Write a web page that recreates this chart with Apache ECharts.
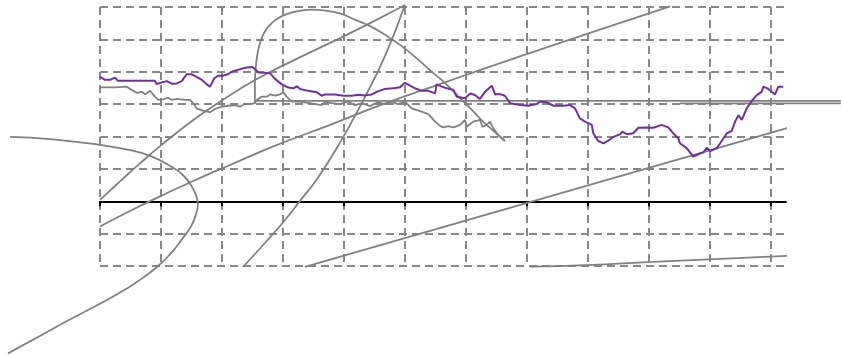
<!DOCTYPE html>
<html>
<head>
<meta charset="utf-8">
<script src="https://cdn.jsdelivr.net/npm/echarts@6/dist/echarts.min.js"></script>
<style>
  html, body { margin: 0; padding: 0; background: #fff; }
  #mainChart { width: 841px; height: 355px; }
</style>
</head>
<body>
<div id="mainChart"></div>
<script>
// tick positions along x (days)
var xTicks = [0, 20, 40, 60, 80, 100, 120, 140, 160, 180, 200, 220];

// main price line
var purpleData = [[0,3.85],[1.6,3.75],[3.3,3.75],[4.9,3.82],[5.9,3.72],[11.5,3.72],[18.0,3.72],[18.6,3.62],[20.2,3.67],[21.9,3.71],[23.5,3.63],[25.2,3.64],[26.8,3.71],[28.4,3.92],[30.1,3.92],[31.7,3.84],[33.4,3.75],[35.0,3.61],[36.1,3.54],[37.5,3.80],[38.8,3.88],[40.4,3.88],[42.1,3.93],[43.2,4.00],[44.8,4.05],[46.5,4.09],[48.1,4.13],[49.8,4.15],[50.8,4.09],[51.9,3.98],[54.1,3.97],[55.8,3.95],[57.4,3.78],[59.6,3.61],[61.8,3.51],[63.4,3.49],[64.5,3.55],[65.6,3.47],[68.3,3.41],[71.1,3.37],[72.7,3.26],[73.8,3.30],[77.1,3.30],[79.8,3.26],[82.6,3.26],[84.7,3.29],[86.9,3.27],[89.1,3.30],[91.3,3.40],[93.5,3.47],[96.8,3.50],[98.4,3.52],[100.0,3.66],[101.7,3.57],[103.3,3.49],[105.5,3.41],[107.7,3.41],[109.9,3.33],[110.4,3.61],[112.1,3.54],[113.7,3.49],[115.9,3.44],[117.0,3.23],[119.7,3.18],[121.4,3.33],[123.0,3.28],[124.6,3.16],[126.3,3.38],[128.5,3.57],[129.6,3.30],[131.2,3.31],[132.8,3.26],[134.5,3.03],[137.8,2.97],[140.5,2.95],[143.2,3.00],[144.3,3.08],[146.5,3.06],[148.7,2.95],[152.0,2.95],[154.2,2.97],[155.8,2.87],[157.4,2.56],[159.1,2.46],[161.3,2.36],[161.8,2.10],[163.4,1.86],[165.1,1.79],[166.7,1.87],[168.4,1.99],[170.6,2.07],[171.4,2.15],[172.8,2.07],[174.9,2.10],[176.6,2.27],[177.1,2.23],[179.3,2.28],[181.5,2.27],[184.2,2.36],[186.4,2.28],[188.0,2.10],[189.7,1.94],[190.2,1.79],[192.4,1.64],[194.6,1.38],[196.2,1.45],[197.9,1.51],[199.0,1.65],[200.1,1.55],[202.3,1.64],[203.4,1.79],[205.6,2.10],[207.2,2.17],[208.3,2.46],[209.4,2.66],[210.5,2.51],[212.1,2.87],[213.8,3.10],[215.4,3.28],[217.0,3.38],[217.6,3.54],[219.2,3.47],[221.4,3.30],[222.5,3.54],[224.1,3.54]];

// second (gray) price line
var grayData = [[0,3.52],[4.9,3.52],[8.8,3.54],[10.4,3.44],[12.0,3.35],[13.7,3.38],[14.8,3.30],[16.4,3.41],[18.0,3.23],[19.1,3.13],[20.8,3.15],[22.4,3.20],[23.5,3.13],[25.2,3.16],[27.9,3.13],[29.5,3.13],[30.6,3.03],[31.7,2.87],[33.9,2.79],[36.1,2.75],[37.7,2.85],[39.9,2.92],[42.1,2.95],[44.3,2.97],[45.9,2.92],[47.6,3.01],[49.8,3.01],[50.8,3.03],[51.4,3.13],[53.0,3.23],[54.7,3.23],[55.8,3.30],[57.4,3.26],[59.0,3.30],[60.1,3.37],[61.2,3.23],[62.9,3.08],[65.0,3.08],[68.3,3.04],[72.7,2.97],[73.8,3.08],[76.0,3.03],[78.7,3.00],[81.3,3.08],[83.6,2.97],[86.0,3.03],[88.6,2.94],[91.2,3.06],[93.5,3.00],[95.8,3.08],[97.7,3.00],[100.0,3.08],[102.2,2.87],[105.5,2.77],[107.7,2.69],[109.9,2.46],[111.5,2.33],[112.6,2.28],[114.2,2.32],[115.9,2.28],[118.1,2.36],[119.7,2.51],[120.3,2.30],[122.4,2.46],[124.6,2.51],[125.5,2.30],[126.8,2.36],[127.9,2.46],[129.0,2.25],[130.6,2.05],[132.8,1.86]];

// drawn curves / trend lines (same units, some run past the plot area)
var arcData = [[50.8,3.03],[50.8,3.59],[51.0,4.05],[51.5,4.46],[52.3,4.83],[53.5,5.14],[55.1,5.38],[57.7,5.61],[61.3,5.78],[65.6,5.88],[69.5,5.92],[73.8,5.89],[78.7,5.80],[83.6,5.61],[88.6,5.41],[93.5,5.14],[98.4,4.83],[103.3,4.46],[108.2,4.05],[113.2,3.65],[117.4,3.25],[121.4,2.88],[125.3,2.49],[129.2,2.16],[132.8,1.86]];
var curveB = [[0,0.04],[3.3,0.33],[7.1,0.66],[13.1,1.17],[20.2,1.74],[29.5,2.43],[37.7,2.97],[45.9,3.47],[55.1,3.96],[67.2,4.52],[78.7,5.04],[90.2,5.58],[100.0,6.06]];
var curveC = [[0,-0.78],[9.8,-0.30],[19.7,0.15],[29.5,0.58],[42.6,1.12],[58.1,1.74],[75.5,2.36],[91.8,2.96],[111.5,3.62],[124.6,4.05],[150.9,4.89],[170.6,5.51],[187.0,6.02]];
var curveD = [[46.9,-2.03],[54.1,-1.29],[60.7,-0.58],[65.6,0.01],[71.2,0.69],[78.1,1.71],[85.9,3.04],[93.5,4.49],[100.0,6.06]];
var lineE = [[67.2,-2.03],[225.3,2.26]];
var curveF = [[141.1,-2.02],[159.7,-1.97],[181.4,-1.87],[225.3,-1.69]];
var parabolaA = [[-29.5,1.99],[-16.4,1.92],[0,1.74],[9.8,1.58],[16.4,1.40],[23.0,1.09],[27.2,0.81],[30.2,0.44],[31.8,0.10],[32.1,-0.09],[31.5,-0.39],[29.9,-0.77],[26.9,-1.17],[23.3,-1.60],[18.7,-2.03],[11.5,-2.53],[5.6,-2.87],[-3.3,-3.33],[-10.8,-3.70],[-19.7,-4.16],[-30.2,-4.70]];
var levelHigh = [[50.8,3.10],[243,3.10]];
var levelLow = [[190.2,3.02],[243,3.02]];

var myChart = echarts.init(document.getElementById('mainChart'), null, {renderer: 'canvas'});

var GRAY = '#808080';
var dashStyle = {color: '#888888', width: 2, type: [8, 5]};

// overlay grid spans the whole canvas in the same data units as the plot,
// so the drawn curves can run outside the plot box
var X_LO = -32.8, X_HI = 243.04, Y_LO = -4.749, Y_HI = 6.216;

function grayLine(data, smooth, onOverlay) {
    return {
        type: 'line',
        data: data,
        smooth: smooth,
        showSymbol: false,
        silent: true,
        xAxisIndex: onOverlay ? 1 : 0,
        yAxisIndex: onOverlay ? 1 : 0,
        lineStyle: {color: GRAY, width: 1.8},
        z: 3
    };
}

myChart.setOption({
    animation: false,
    grid: [
        {left: 100, top: 7, right: 55, bottom: 89},
        {left: 0, top: 0, right: 0, bottom: 0}
    ],
    xAxis: [{
        type: 'value',
        min: 0,
        max: 225,
        interval: 20,
        axisLine: {show: true, onZero: true, lineStyle: {color: '#000', width: 2}},
        axisTick: {show: true, length: 5, lineStyle: {color: '#000', width: 2}, customValues: xTicks},
        axisLabel: {show: false},
        splitLine: {show: true, lineStyle: dashStyle}
    }, {
        type: 'value',
        gridIndex: 1,
        min: X_LO,
        max: X_HI,
        show: false
    }],
    yAxis: [{
        type: 'value',
        min: -2,
        max: 6,
        interval: 1,
        axisLine: {show: false},
        axisTick: {show: false},
        axisLabel: {show: false},
        splitLine: {show: true, lineStyle: dashStyle}
    }, {
        type: 'value',
        gridIndex: 1,
        min: Y_LO,
        max: Y_HI,
        show: false
    }],
    series: [
        grayLine(parabolaA, true, true),
        grayLine(curveB, true, true),
        grayLine(curveC, true, true),
        grayLine(curveD, true, true),
        grayLine(lineE, false, true),
        grayLine(curveF, true, true),
        grayLine(levelHigh, false, true),
        grayLine(levelLow, false, true),
        grayLine(arcData, true, true),
        grayLine(grayData, false, false),
        {
            name: 'price',
            type: 'line',
            data: purpleData,
            showSymbol: false,
            silent: true,
            lineStyle: {color: '#7030a0', width: 2},
            z: 4
        }
    ]
});
</script>
</body>
</html>
